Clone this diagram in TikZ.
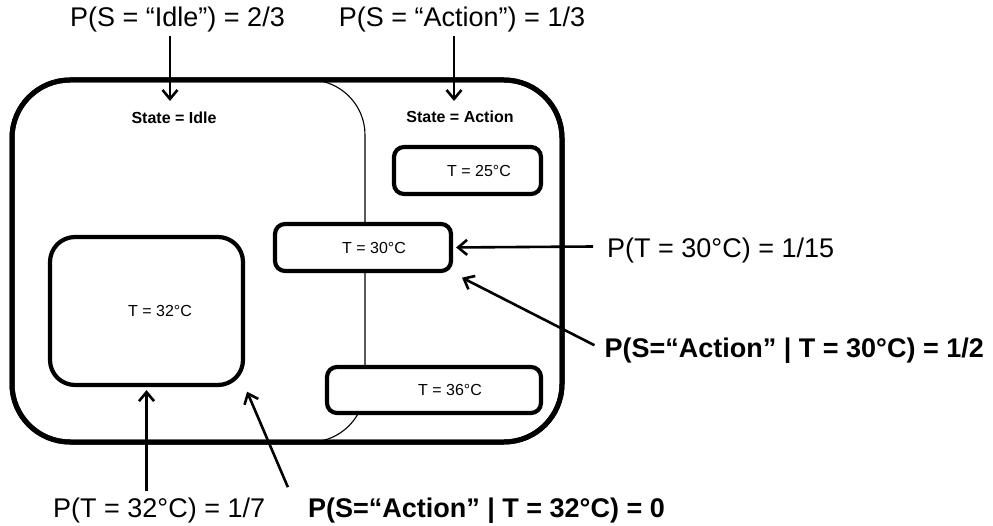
\documentclass[tikz,border=0pt]{standalone}
\usepackage{fontspec}
\setmainfont{Liberation Sans}
\usetikzlibrary{arrows.meta,shadows,calc}
\begin{document}
\begin{tikzpicture}[x=1pt,y=-1pt,
  shad/.style={drop shadow={shadow xshift=1.5pt,shadow yshift=-1.5pt,opacity=0.25}},
  box/.style={draw,line width=4.2pt,rounded corners=10pt,fill=white,shad,inner sep=0pt},
  boxtxt/.style={font=\fontsize{16}{19}\selectfont},
  big/.style={font=\fontsize{27}{32}\selectfont,inner sep=0pt,anchor=base},
  bigb/.style={font=\fontsize{27}{32}\selectfont\bfseries,inner sep=0pt,anchor=base},
  statel/.style={font=\fontsize{16}{19}\selectfont\bfseries,inner sep=0pt,anchor=base},
  arr/.style={line width=2.6pt,-{Straight Barb[length=9pt,width=15pt,line width=2.6pt]}}]
\useasboundingbox (0,0) rectangle (993,526);
% outer frame
\draw[line width=5pt,rounded corners=58pt,fill=white,shad] (12,80) rectangle (562,442);
% idle region (thin)
\draw[line width=1.1pt,rounded corners=55pt] (250,80) -- (365,80) -- (365,442) -- (250,442);
\draw[line width=5pt,rounded corners=58pt] (12,80) rectangle (562,442);
% state labels
\node[statel] (sidle) at (174,123.5) {State = Idle};
\node[statel] (sact) at (460,122.5) {State = Action};
% boxes
\node[box,minimum width=147pt,minimum height=47pt,
  label={[boxtxt,xshift=11.5pt]center:T = 25°C}] (box25) at (467.5,170.5) {};
\node[box,minimum width=176pt,minimum height=47pt,
  label={[boxtxt,xshift=11pt]center:T = 30°C}] (box30) at (363,247.5) {};
\node[box,minimum width=214pt,minimum height=46pt,
  label={[boxtxt,xshift=16pt]center:T = 36°C}] (box36) at (434,390) {};
\node[box,rounded corners=25pt,minimum width=193pt,minimum height=148pt,
  label={[boxtxt,xshift=13.5pt]center:T = 32°C}] (box32) at (146.5,311) {};
% labels
\node[big] (pidle) at (177.5,27) {P(S = “Idle”) = 2/3};
\node[big] (pact) at (462,27) {P(S = “Action”) = 1/3};
\node[big,anchor=base west] (pt30) at (607,258) {P(T = 30°C) = 1/15};
\node[bigb,anchor=base east] (pc30) at (984,358) {P(S=“Action” | T = 30°C) = 1/2};
\node[big,anchor=base west] (pt32) at (53,517) {P(T = 32°C) = 1/7};
\node[bigb,anchor=base east] (pc32) at (665,517) {P(S=“Action” | T = 32°C) = 0};
% arrows
\coordinate (tidle) at (170,101);
\coordinate (tact) at (454,101);
\draw[arr,shorten <=3pt] (pidle.south -| tidle) -- (tidle);
\draw[arr,shorten <=3pt] (pact.south -| tact) -- (tact);
\draw[arr,shorten >=3pt] ($(pt30.west |- box30.east)+(-14,-1)$) -- (box30.east);
\draw[arr,shorten >=10pt] ($(pc30.west)+(-10,-6)$) -- (box30.south east);
\draw[arr,shorten <=6pt,shorten >=3pt] (box32.south |- pt32.north) -- (box32.south);
\draw[arr,shorten >=5pt] ($(pc32.west)+(-20,-23)$) -- (box32.south east);
\end{tikzpicture}
\end{document}
